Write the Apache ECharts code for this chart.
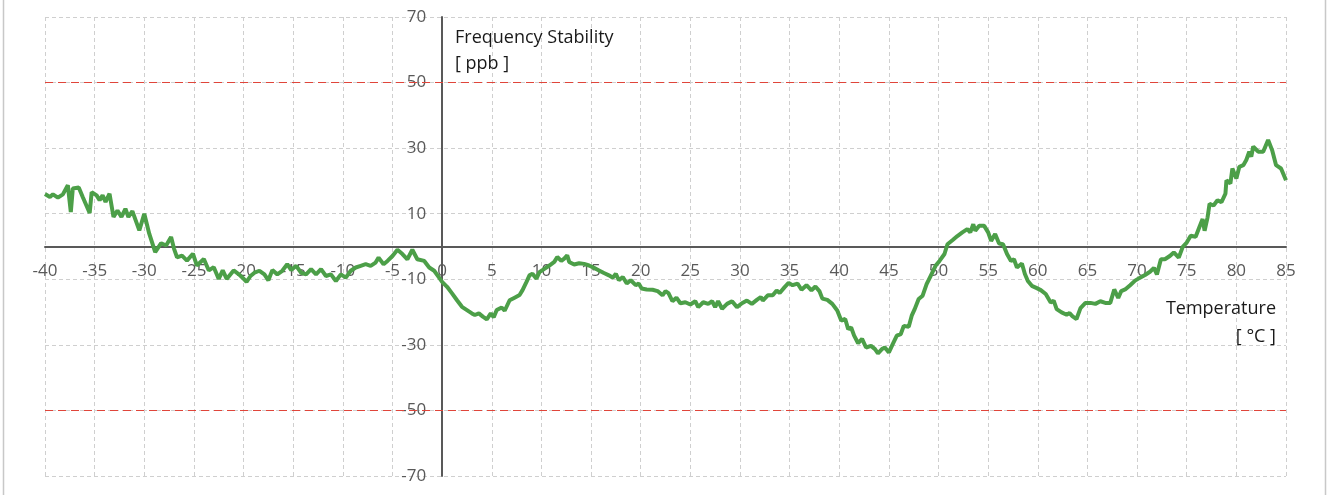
<!DOCTYPE html>
<html>
<head>
<meta charset="utf-8">
<script src="https://cdn.jsdelivr.net/npm/echarts@6/dist/echarts.min.js"></script>
<style>
html,body{margin:0;padding:0;background:#fff;}
#chart{width:1331px;height:495px;}
</style>
</head>
<body>
<div id="chart"></div>
<script>
// Temperature (°C)
var tempC = [
-40,-39.5,-39.2,-38.7,-38.2,-37.7,-37.4,-37.2,-36.6,-36.2,-35.5,-35.3,-34.8,-34.5,-34.2,-33.9,-33.5,-33.1,-32.7,-32.3,-31.9,-31.6,-31.2,-30.5,-30,-29.5,-28.9,-28.3,-27.8,-27.3,-27,-26.7,-26.2,-25.7,-25.1,-24.7,-24,-23.5,-23,-22.5,-22.1,-21.7,-21,-20.5,-20.1,-19.7,-19.3,-18.9,
-18.4,-17.9,-17.5,-17.1,-16.6,-16.1,-15.6,-15.2,-14.7,-14.2,-13.7,-13.2,-12.7,-12.2,-11.7,-11.2,-10.7,-10.2,-9.7,-9.2,-8.7,-8.2,-7.7,-7.2,-6.7,-6.4,-5.9,-5.5,-5,-4.5,-4,-3.5,-3,-2.5,-1.8,-1.3,-0.8,-0.3,
0,0.5,1,1.5,2,2.5,3,3.3,3.7,4.1,4.5,4.9,5.2,5.5,6,6.3,6.8,7.3,7.8,8.1,8.5,8.8,9.1,9.5,9.8,10.3,10.8,11.3,11.6,12,12.3,12.6,12.8,13.3,13.8,14.3,14.8,15.3,15.8,16.3,16.8,17.2,17.5,17.8,18.2,18.6,19,19.5,19.8,20.1,20.6,
21.2,21.7,22.2,22.5,22.8,23.2,23.6,24,24.5,25,25.5,25.8,26.3,26.8,27.2,27.5,27.8,28.2,28.7,29.2,29.7,30.2,30.7,31.2,31.7,32.1,32.3,32.8,33.3,33.7,34,34.5,34.9,35.3,35.8,36.2,36.7,37.2,37.6,38,38.3,38.8,39.3,39.8,40.2,40.6,40.9,41.2,
41.5,41.9,42.3,42.7,43.2,43.6,43.9,44.3,44.6,45,45.4,45.8,46.2,46.5,47,47.3,47.6,48,48.4,48.8,49.2,49.7,50.1,50.6,50.9,51.4,51.9,52.4,52.9,53.2,53.5,53.7,54.1,54.6,55,55.3,55.7,56.1,56.5,56.9,57.3,57.6,57.9,58.4,58.7,59,59.4,59.9,60.3,60.8,61.3,61.6,61.9,62.4,
62.9,63.2,63.5,63.9,64.3,64.8,65.3,65.8,66.3,66.8,67.3,67.7,68.1,68.4,68.8,69.3,69.8,70.3,70.8,71.3,71.7,72,72.4,72.8,73.3,73.7,74.2,74.6,75,75.4,75.9,76.3,76.6,76.8,77.1,77.3,77.7,78.1,78.5,78.9,79,79.4,79.6,80,80.3,80.7,81,81.3,81.5,81.7,82.2,82.7,83.2,83.6,84,84.5,85
];
// Frequency stability (ppb)
var ppb = [
16,15.1,15.9,14.9,15.9,18.7,10.5,17.7,18,15.1,10.2,16.6,15.6,14.1,15.6,13.6,16.1,9,11,9,11.5,9,10.8,4.9,10,3.9,-1.7,1,0.3,2.9,-0.7,-3.3,-2.8,-4.3,-2.2,-5.8,-3.8,-7.3,-6.3,-9.9,-7.3,-9.9,-7.3,-8.4,-9.5,-10.8,-9,-8,
-7.4,-8.5,-10.3,-7.2,-8.5,-7.4,-5.4,-7.2,-5.9,-8,-8.5,-6.9,-8.5,-6.9,-9,-8.5,-10.5,-8.5,-9.5,-7.4,-6.4,-5.9,-5.4,-5.9,-4.9,-3.4,-5.4,-4.4,-2.9,-1,-2.3,-3.9,-1,-3.9,-4.4,-6.4,-7.4,-9.5,
-10.8,-12.3,-14.3,-16.4,-18.4,-19.4,-20.4,-20.9,-20.4,-21.4,-22.2,-20.4,-21.6,-19.4,-18.6,-19.6,-16.4,-15.6,-14.8,-13.3,-10.8,-8.8,-8.3,-9.8,-7.8,-6.8,-5.8,-4.7,-3.2,-4.4,-3.7,-2.7,-4.7,-5.5,-5.1,-5.3,-5.8,-6.5,-7.3,-8.1,-8.8,-9.5,-8.3,-10.3,-9.3,-11.3,-10.3,-11.8,-11.3,-12.8,-13.1,
-13.2,-13.6,-14.9,-13.6,-14.2,-16.7,-15.6,-17.3,-17,-17.7,-16.7,-18.5,-17,-17.5,-16.7,-18.5,-16.7,-19,-17.5,-16.7,-18.5,-17.3,-16.5,-17.5,-16.3,-15.4,-16.5,-14.9,-14.9,-13.4,-14.2,-12.4,-11.1,-11.8,-11.3,-13.2,-11.8,-13.4,-12.2,-13.6,-15.9,-16.3,-17.5,-19.5,-22.6,-22.1,-25.2,-24.7,
-27.2,-29.5,-28.2,-30.8,-30.3,-31.3,-32.6,-31.3,-30.8,-32.3,-29.7,-27.2,-26.7,-24.2,-24.5,-21.1,-19.1,-16,-15,-11.5,-9,-5.9,-4.4,-2.3,0.7,1.9,3.2,4.3,5.3,4.3,6.8,4.8,6.3,6.3,4.3,1.7,3.8,0.9,0.7,-2.3,-4.4,-3.9,-6.4,-5.2,-8.4,-10.5,-12,-12.7,-13.3,-14.5,-17.1,-16.5,-19.1,-20.1,
-20.8,-20.3,-21.3,-22.1,-18.8,-17.2,-17.2,-17.5,-16.7,-17.2,-17.2,-13.1,-15.7,-13.6,-13.1,-11.8,-10.4,-9.5,-8.7,-7.7,-6.5,-8.5,-3.9,-3.9,-2.9,-1.8,-3.4,-0.1,1.2,3.3,3,6.1,8.4,4.8,8.9,13,12.5,14.1,13.5,16.1,20.2,19.2,23.8,20.7,24.3,24.8,26.4,28.9,27.4,30.5,28.9,28.9,32.5,29.4,24.8,23.8,20.2
];
var limitsPpb = [50, -50];
var xMin = -40, xMax = 85, xStep = 5;
var yMin = -70, yMax = 70, yStep = 20;
var yAxisTitle = ['Frequency Stability', '[ ppb ]'];
var xAxisTitle = ['Temperature', '[ °C ]'];

var points = tempC.map(function (t, i) { return [t, ppb[i]]; });

var W = 1331, H = 495;
var G = {left: 45, right: 45, top: 17, bottom: 19};
var gw = W - G.left - G.right, gh = H - G.top - G.bottom;
// shift axes so they cross at zero (axis line + labels together)
var xAxisOffset = -gh * (0 - yMin) / (yMax - yMin);
var yAxisOffset = -gw * (0 - xMin) / (xMax - xMin);

var chart = echarts.init(document.getElementById('chart'), null, {renderer: 'canvas'});
var FONT = '"Open Sans", "Noto Sans", sans-serif';
chart.setOption({
  animation: false,
  backgroundColor: '#ffffff',
  grid: {left: G.left, right: G.right, top: G.top, bottom: G.bottom, containLabel: false},
  xAxis: {
    type: 'value', min: xMin, max: xMax, interval: xStep,
    position: 'bottom', offset: xAxisOffset,
    axisLine: {show: true, onZero: false, lineStyle: {color: '#595959', width: 2}},
    axisTick: {show: false},
    axisLabel: {color: '#595959', fontSize: 17, fontFamily: FONT, margin: 16,
      showMinLabel: true, showMaxLabel: true},
    splitLine: {show: true, lineStyle: {color: '#cfcfcf', type: [4, 3], width: 1}}
  },
  yAxis: {
    type: 'value', min: yMin, max: yMax, interval: yStep,
    position: 'left', offset: yAxisOffset,
    axisLine: {show: true, onZero: false, lineStyle: {color: '#595959', width: 2}},
    axisTick: {show: false},
    axisLabel: {color: '#595959', fontSize: 17, fontFamily: FONT, margin: 16,
      showMinLabel: true, showMaxLabel: true},
    splitLine: {show: true, lineStyle: {color: '#cfcfcf', type: [4, 3], width: 1}}
  },
  graphic: [
    {type: 'line', shape: {x1: 3.5, y1: 0, x2: 3.5, y2: 495}, style: {stroke: '#c8c8c8', lineWidth: 1.5}, silent: true},
    {type: 'line', shape: {x1: 1325.5, y1: 0, x2: 1325.5, y2: 495}, style: {stroke: '#c8c8c8', lineWidth: 1.5}, silent: true},
    {type: 'text', left: 455, top: 25, z: 10,
      style: {text: yAxisTitle.join('\n'), fill: '#1a1a1a', font: '18px ' + FONT, lineHeight: 26, textAlign: 'left'}},
    {type: 'text', right: 55, top: 295, z: 10,
      style: {text: xAxisTitle.join('\n'), fill: '#1a1a1a', font: '18px ' + FONT, lineHeight: 28, textAlign: 'right'}}
  ],
  series: [{
    type: 'line',
    data: points,
    showSymbol: false,
    smooth: false,
    lineStyle: {color: '#4c9f48', width: 4},
    z: 5,
    markLine: {
      silent: true, symbol: 'none', label: {show: false},
      lineStyle: {color: '#e0453a', type: [8, 5], width: 1.2},
      data: limitsPpb.map(function (v) { return {yAxis: v}; })
    }
  }]
});
</script>
</body>
</html>
